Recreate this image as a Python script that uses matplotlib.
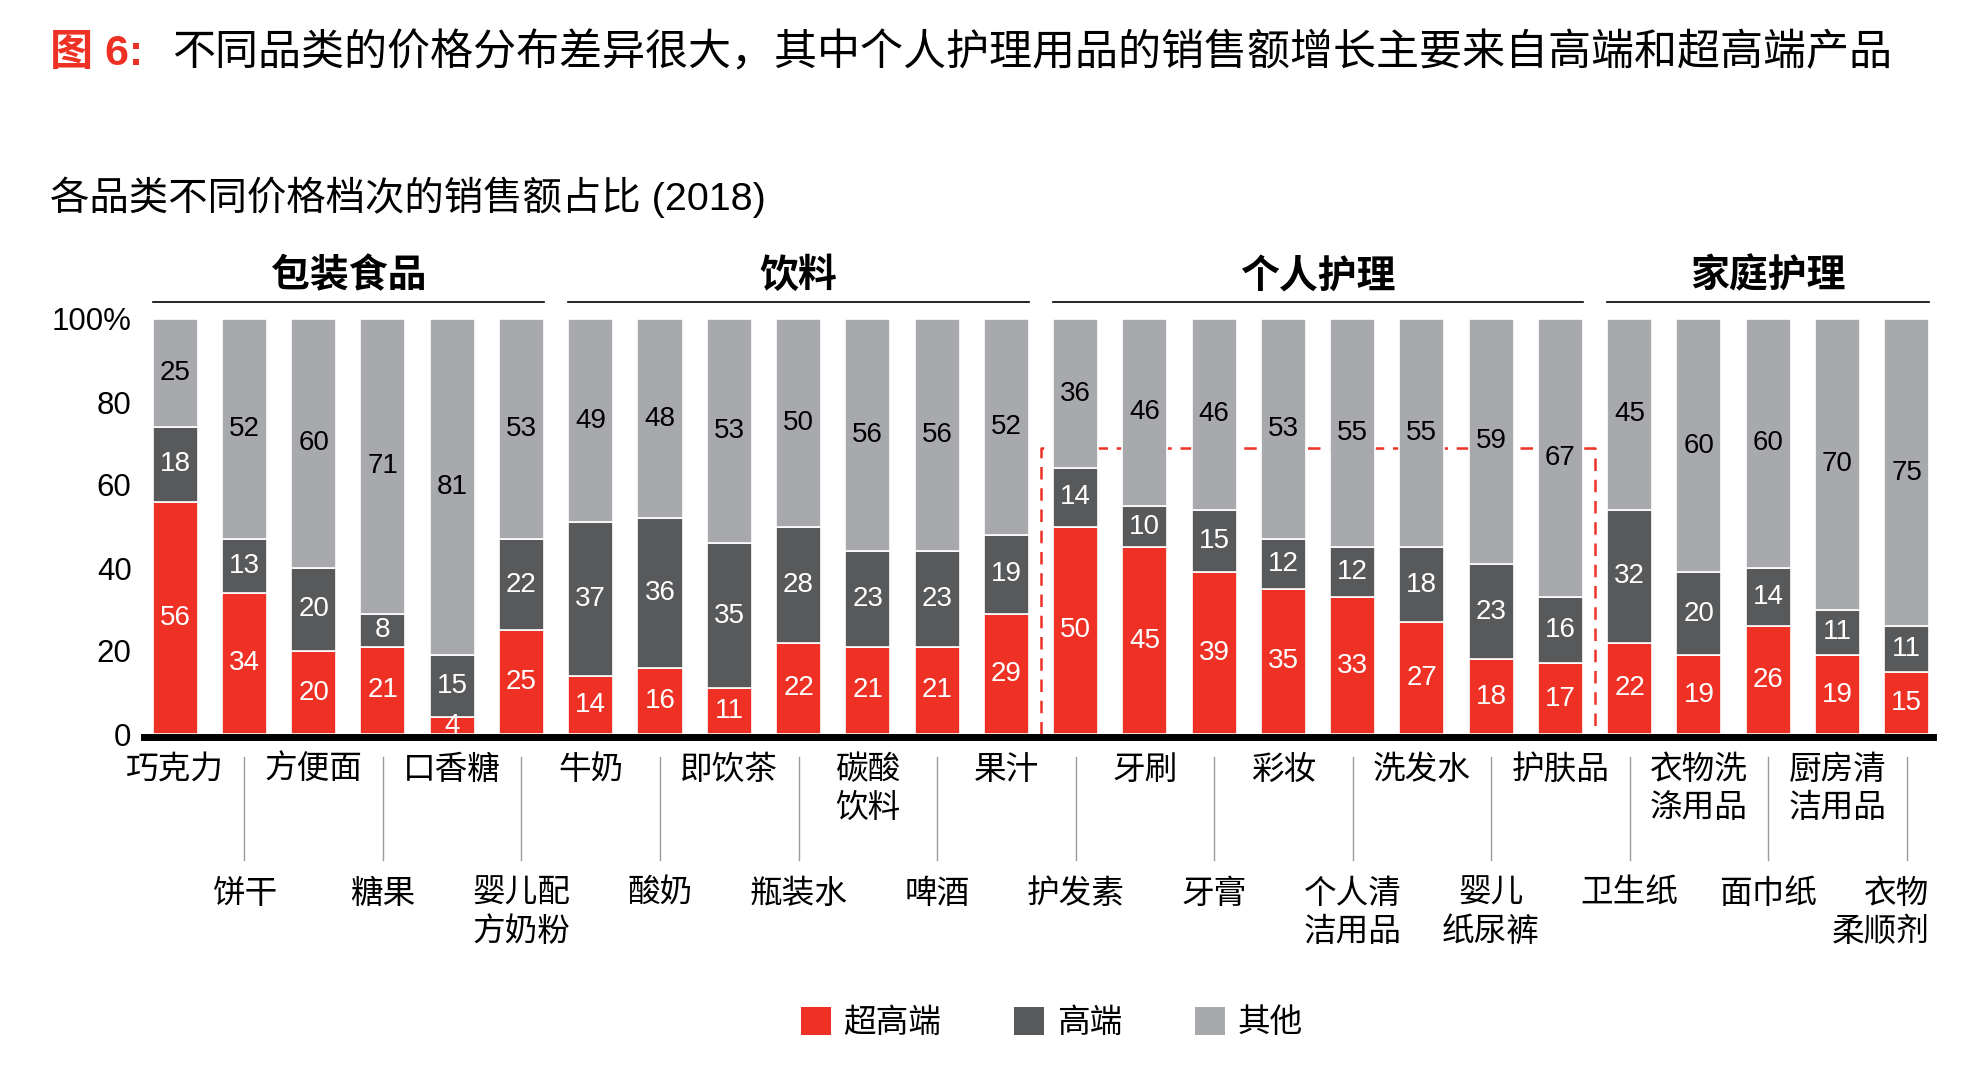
import matplotlib
matplotlib.use("Agg")
import matplotlib.pyplot as plt
from matplotlib.patches import Patch
import numpy as np

plt.rcParams['font.family'] = ['Liberation Sans', 'Noto Sans CJK SC', 'DejaVu Sans']

# categories, in bar order (left to right)
names = ["巧克力", "饼干", "方便面", "糖果", "口香糖", "婴儿配\n方奶粉",
         "牛奶", "酸奶", "即饮茶", "瓶装水", "碳酸\n饮料", "啤酒", "果汁",
         "护发素", "牙刷", "牙膏", "彩妆", "个人清\n洁用品", "洗发水",
         "婴儿\n纸尿裤", "护肤品", "卫生纸", "衣物洗\n涤用品", "面巾纸",
         "厨房清\n洁用品", "衣物\n柔顺剂"]
# share of sales (%) by price tier
super_high = [56, 34, 20, 21, 4, 25, 14, 16, 11, 22, 21, 21, 29,
              50, 45, 39, 35, 33, 27, 18, 17, 22, 19, 26, 19, 15]
high = [18, 13, 20, 8, 15, 22, 37, 36, 35, 28, 23, 23, 19,
        14, 10, 15, 12, 12, 18, 23, 16, 32, 20, 14, 11, 11]
other = [25, 52, 60, 71, 81, 53, 49, 48, 53, 50, 56, 56, 52,
         36, 46, 46, 53, 55, 55, 59, 67, 45, 60, 60, 70, 75]
groups = ["包装食品", "饮料", "个人护理", "家庭护理"]
group_sizes = [6, 7, 8, 5]
tiers = ["超高端", "高端", "其他"]

RED, DARK, LIGHT = "#EF3125", "#58595B", "#A7A9AC"
W = 0.65

fig = plt.figure(figsize=(19.68, 10.72), dpi=100)
ax = fig.add_axes([144 / 1968, 338 / 1072, 1789 / 1968, 415 / 1072])

x = np.arange(len(names))
sh = np.array(super_high)
hi = np.array(high)
rest = 100 - sh - hi  # "other" drawn as remainder so every bar ends at 100%

ax.bar(x, sh, W, color=RED, edgecolor="white", lw=1.2, zorder=2)
ax.bar(x, hi, W, bottom=sh, color=DARK, edgecolor="white", lw=1.2, zorder=2)
ax.bar(x, rest, W, bottom=sh + hi, color=LIGHT, edgecolor="white", lw=1.2,
       zorder=2)

for i in range(len(names)):
    ax.text(x[i], sh[i] / 2, str(super_high[i]), ha="center", va="center",
            color="white", fontsize=20, zorder=3)
    ax.text(x[i], sh[i] + hi[i] / 2, str(high[i]), ha="center", va="center",
            color="white", fontsize=20, zorder=3)
    ax.text(x[i], sh[i] + hi[i] + rest[i] / 2, str(other[i]), ha="center",
            va="center", color="black", fontsize=20, zorder=3)

# dashed highlight round personal care
ax.plot([12.5, 12.5, 20.5, 20.5], [0, 69, 69, 0], color=RED, lw=1.8,
        ls=(0, (5, 3.5)), zorder=1, clip_on=False)

# group headers
start = 0
for g, n in zip(groups, group_sizes):
    end = start + n - 1
    ax.plot([start - W / 2, end + W / 2], [104, 104], color="black", lw=1.2,
            clip_on=False)
    ax.text((start + end) / 2, 110.2, g, ha="center", va="center",
            fontsize=28, fontweight="bold", clip_on=False)
    start += n

# category labels: alternating rows, lower row with leader lines
for i, nm in enumerate(names):
    if i % 2 == 0:
        ax.text(x[i], -5.0, nm, ha="center", va="top", fontsize=23.5,
                linespacing=1.3, clip_on=False)
    else:
        ax.plot([x[i], x[i]], [-5.5, -30.4], color="#9B9B9B", lw=1,
                clip_on=False)
        if i == len(names) - 1:
            ax.text(x[i] + W / 2, -34.9, nm, ha="right", va="top",
                    fontsize=23.5, linespacing=1.3, multialignment="right",
                    clip_on=False)
        else:
            ax.text(x[i], -34.9, nm, ha="center", va="top", fontsize=23.5,
                    linespacing=1.3, clip_on=False)

ax.set_xlim(-0.45, 25.38)
ax.set_ylim(0, 100)
ax.set_xticks([])
ax.set_yticks([0, 20, 40, 60, 80, 100])
ax.set_yticklabels(["0", "20", "40", "60", "80", "100%"], fontsize=22.5)
ax.tick_params(axis="y", length=0, pad=9)
for s in ("top", "right", "left"):
    ax.spines[s].set_visible(False)
ax.spines["bottom"].set_linewidth(5)
ax.spines["bottom"].set_position(("outward", 2.5))

fig.text(50 / 1968, 1 - 54 / 1072, "图 6:", color=RED, fontsize=31,
         fontweight="bold", va="center")
fig.text(172 / 1968, 1 - 54 / 1072,
         "不同品类的价格分布差异很大，其中个人护理用品的销售额增长主要来自高端和超高端产品",
         fontsize=31, va="center")
fig.text(50 / 1968, 1 - 197 / 1072, "各品类不同价格档次的销售额占比 (2018)",
         fontsize=28.4, va="center")

handles = [Patch(facecolor=c, edgecolor="none", label=l)
           for c, l in zip([RED, DARK, LIGHT], tiers)]
fig.legend(handles=handles, loc="center", bbox_to_anchor=(0.5345, 0.0457),
           ncol=3, frameon=False, fontsize=23.5, handlelength=0.92,
           handleheight=0.95, handletextpad=0.385, columnspacing=2.23)

fig.savefig("out.png", dpi=100)
